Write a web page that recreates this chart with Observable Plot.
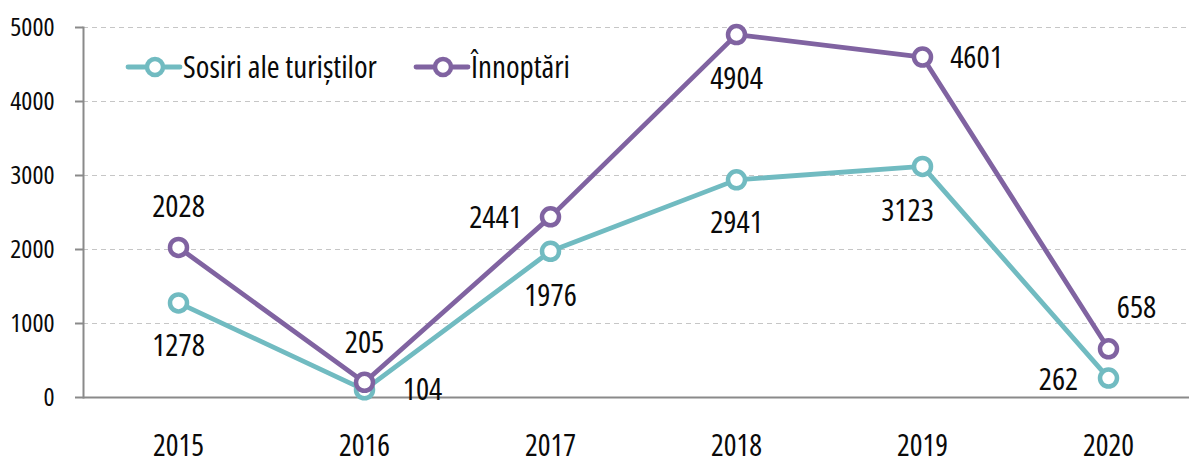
<!DOCTYPE html>
<html>
<head>
<meta charset="utf-8">
<script src="https://cdn.jsdelivr.net/npm/d3@7"></script>
<script src="https://cdn.jsdelivr.net/npm/@observablehq/plot@0.6"></script>
<style>
  html, body { margin: 0; padding: 0; background: #fff; }
  #wrap { position: relative; width: 1189px; height: 465px; font-family: "Open Sans", sans-serif; font-stretch: condensed; font-weight: 400; }
  #wrap svg, #wrap text { font-stretch: condensed; font-weight: 400; }
  #legend { position: absolute; left: 0; top: 0; width: 1189px; height: 120px; pointer-events: none; }
</style>
</head>
<body>
<div id="wrap"></div>
<script>
// ---- data ----
const years = ["2015", "2016", "2017", "2018", "2019", "2020"];
const sosiri = [1278, 104, 1976, 2941, 3123, 262];
const innoptari = [2028, 205, 2441, 4904, 4601, 658];
const seriesNames = ["Sosiri ale turiștilor", "Înnoptări"];
const yTicks = [0, 1000, 2000, 3000, 4000, 5000];

// ---- styling / layout config ----
const colors = ["#71bbc1", "#8063a1"];
const FONT = '"Open Sans", sans-serif';
// label offsets (dx, dy) relative to each point, per series and year index
const labelOffsets = [
  [[0, 43], [58, 0], [0, 45], [0, 43], [-15, 45], [-50, 2]],
  [[0, -40], [0, -39], [-55, 1], [0, 44], [54, 1], [28, -41]]
];

const rows = [];
[sosiri, innoptari].forEach((vals, s) => {
  vals.forEach((v, i) => rows.push({series: seriesNames[s], year: years[i], value: v, s, i}));
});

const textMarks = rows.map(r => Plot.text([r], {
  x: "year", y: "value", text: d => String(d.value),
  dx: labelOffsets[r.s][r.i][0], dy: labelOffsets[r.s][r.i][1],
  fontSize: 31, fill: "#0a0a0a", textAnchor: "middle", lineAnchor: "middle"
}));

const chart = Plot.plot({
  width: 1189,
  height: 465,
  marginLeft: 83,
  marginRight: 0,
  marginTop: 27,
  marginBottom: 68,
  style: {fontFamily: FONT, background: "#fff", overflow: "visible"},
  x: {type: "band", domain: years, range: [83, 1203], padding: 0, axis: null},
  y: {domain: [0, 5000], axis: null},
  color: {domain: seriesNames, range: colors},
  marks: [
    Plot.ruleY(yTicks.filter(t => t > 0), {stroke: "#c6c6c6", strokeWidth: 1, strokeDasharray: "5,4"}),
    Plot.axisY({ticks: yTicks, tickSize: 8, tickPadding: 21, fontSize: 26, stroke: "#8a8a8a", strokeWidth: 2, color: "#0a0a0a", tickFormat: d => String(d), label: null}),
    Plot.frame({anchor: "left", stroke: "#8a8a8a", strokeWidth: 2}),
    Plot.ruleY([0], {stroke: "#8a8a8a", strokeWidth: 2}),
    Plot.axisX({tickSize: 0, tickPadding: 37, fontSize: 30, color: "#0a0a0a", label: null}),
    Plot.line(rows, {x: "year", y: "value", z: "series", stroke: "series", strokeWidth: 4.8, strokeLinejoin: "round"}),
    Plot.dot(rows, {x: "year", y: "value", stroke: "series", fill: "#fff", r: 8.5, strokeWidth: 4.5}),
    ...textMarks
  ]
});

const wrap = document.getElementById("wrap");
wrap.appendChild(chart);

// legend overlay (HTML/SVG, not data)
const legendItems = [
  {name: seriesNames[0], color: colors[0], x0: 128},
  {name: seriesNames[1], color: colors[1], x0: 416}
];
const lg = d3.select(wrap).append("svg").attr("id", "legend").attr("width", 1189).attr("height", 120);
legendItems.forEach(it => {
  const g = lg.append("g").attr("transform", `translate(${it.x0},67)`);
  g.append("line").attr("x1", 0).attr("x2", 52).attr("y1", 0).attr("y2", 0)
    .attr("stroke", it.color).attr("stroke-width", 4.8).attr("stroke-linecap", "round");
  g.append("circle").attr("cx", 27).attr("cy", 0).attr("r", 8).attr("fill", "#fff")
    .attr("stroke", it.color).attr("stroke-width", 4.5);
  g.append("text").attr("x", 55).attr("y", 0).attr("dy", "0.35em")
    .attr("font-family", FONT).attr("font-size", 31).attr("fill", "#0a0a0a")
    .style("font-stretch", "condensed").style("font-weight", 400).text(it.name);
});
</script>
</body>
</html>
